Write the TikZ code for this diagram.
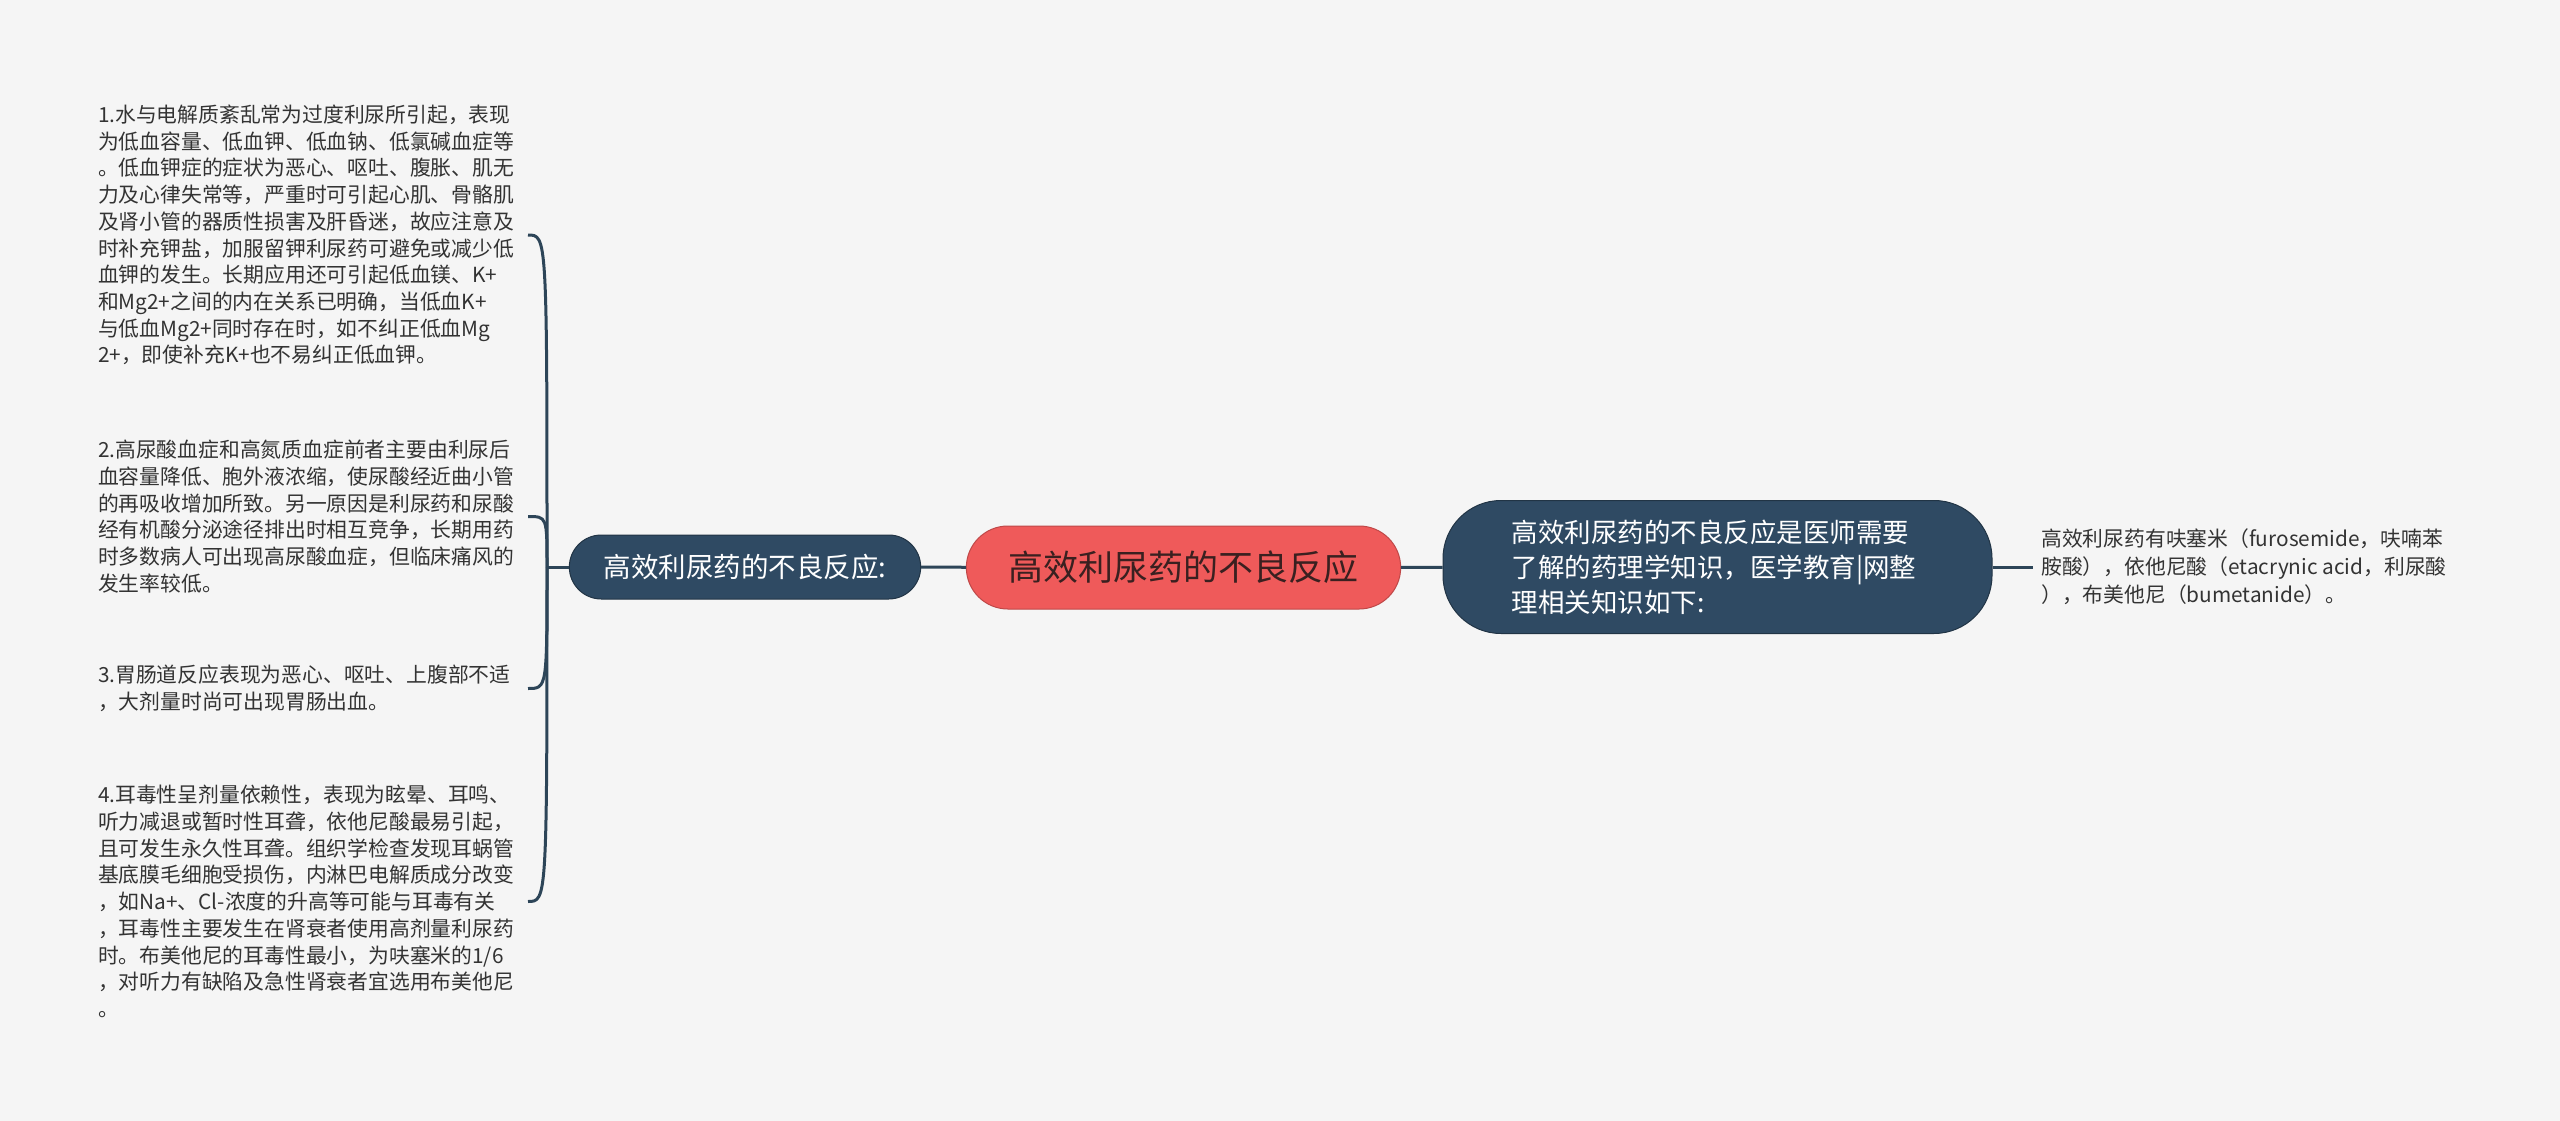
\documentclass[tikz,border=0pt]{standalone}
\usepackage{fontspec}
\setmainfont{Noto Sans CJK SC}
\usetikzlibrary{shapes.misc}
\definecolor{MapNavy}{HTML}{2F4A63}
\definecolor{MapRed}{HTML}{EF5A5A}
\definecolor{MapInk}{HTML}{3A2020}
\definecolor{MapPaper}{HTML}{F5F5F5}
\definecolor{MapLine}{HTML}{2D4558}
\definecolor{MapText}{HTML}{333333}

\begin{document}
\begin{tikzpicture}[
  x=1pt, y=-1pt,
  rootnode/.style={rounded rectangle, fill=MapRed, draw=MapRed!80!black, line width=1pt, minimum width=441pt, minimum height=83pt, text=MapInk, font=\fontsize{35}{42}\selectfont},
  topicnode/.style={rounded rectangle, fill=MapNavy, draw=MapNavy!70!black, line width=1pt, text=white, font=\fontsize{27.5}{35}\selectfont},
  notenode/.style={rounded corners=58pt, fill=MapNavy, draw=MapNavy!70!black, line width=1pt, text=white, align=left, font=\fontsize{26.5}{35}\selectfont},
  leafnote/.style={anchor=west, align=left, inner sep=0pt, outer xsep=6pt, text width=424pt, text=MapText, font=\fontsize{20.8}{26.7}\selectfont},
  sidenote/.style={anchor=west, align=left, inner sep=0pt, text=MapText, font=\fontsize{20.8}{28}\selectfont},
  link/.style={draw=MapLine, line width=3pt}
]
\fill[MapPaper] (0,0) rectangle (2560,1121);
\useasboundingbox (0,0) rectangle (2560,1121);

\node[rootnode] (root) at (1183.5,567.5) {高效利尿药的不良反应};
\node[topicnode, minimum width=358pt, minimum height=64pt] (adverse) at (745,567) {高效利尿药的不良反应:};
\node[notenode, minimum width=549pt, minimum height=133pt, text width=412pt] (intro) at (1717.5,567) {高效利尿药的不良反应是医师需要\\了解的药理学知识，医学教育|网整\\理相关知识如下:};
\node[sidenote] (drugs) at (2041,567) {高效利尿药有呋塞米（furosemide，呋喃苯\\胺酸），依他尼酸（etacrynic acid，利尿酸\\），布美他尼（bumetanide）。};

\node[leafnote] (water) at (92,235) {1.水与电解质紊乱常为过度利尿所引起，表现\\为低血容量、低血钾、低血钠、低氯碱血症等\\。低血钾症的症状为恶心、呕吐、腹胀、肌无\\力及心律失常等，严重时可引起心肌、骨骼肌\\及肾小管的器质性损害及肝昏迷，故应注意及\\时补充钾盐，加服留钾利尿药可避免或减少低\\血钾的发生。长期应用还可引起低血镁、K+\\和Mg2+之间的内在关系已明确，当低血K+\\与低血Mg2+同时存在时，如不纠正低血Mg\\2+，即使补充K+也不易纠正低血钾。};
\node[leafnote] (uric) at (92,516.5) {2.高尿酸血症和高氮质血症前者主要由利尿后\\血容量降低、胞外液浓缩，使尿酸经近曲小管\\的再吸收增加所致。另一原因是利尿药和尿酸\\经有机酸分泌途径排出时相互竞争，长期用药\\时多数病人可出现高尿酸血症，但临床痛风的\\发生率较低。};
\node[leafnote] (gut) at (92,688.5) {3.胃肠道反应表现为恶心、呕吐、上腹部不适\\，大剂量时尚可出现胃肠出血。};
\node[leafnote] (ear) at (92,901.5) {4.耳毒性呈剂量依赖性，表现为眩晕、耳鸣、\\听力减退或暂时性耳聋，依他尼酸最易引起，\\且可发生永久性耳聋。组织学检查发现耳蜗管\\基底膜毛细胞受损伤，内淋巴电解质成分改变\\，如Na+、Cl-浓度的升高等可能与耳毒有关\\，耳毒性主要发生在肾衰者使用高剂量利尿药\\时。布美他尼的耳毒性最小，为呋塞米的1/6\\，对听力有缺陷及急性肾衰者宜选用布美他尼\\。};

\coordinate (spine) at (547,567);
\draw[link] (adverse) -- (root);
\draw[link] (root) -- (intro);
\draw[link] (intro.east) -- ([xshift=-8pt]drugs.west);
\draw[link] (adverse.west) -- (spine);
\foreach \leaf in {water,uric,gut,ear}
  \draw[link] (spine) .. controls (spine |- \leaf.east) .. (\leaf.east);
\end{tikzpicture}
\end{document}
